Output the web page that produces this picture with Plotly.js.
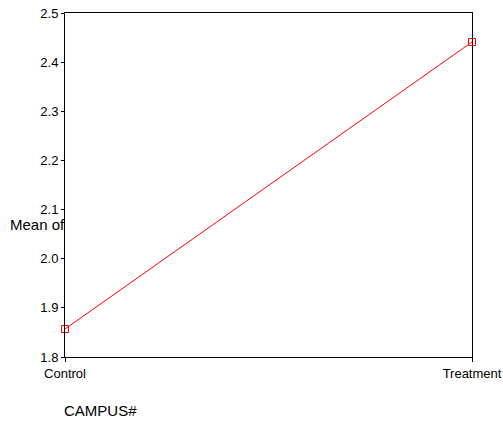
<!DOCTYPE html>
<html>
<head>
<meta charset="utf-8">
<script src="https://cdn.plot.ly/plotly-3.0.1.min.js"></script>
<style>
  html, body { margin: 0; padding: 0; background: #fff; }
  #chart { width: 503px; height: 422px; }
</style>
</head>
<body>
<div id="chart"></div>
<script>
// Group means by campus
const groups = ["Control", "Treatment"];
const means = [1.857, 2.441];
const yTicks = [1.8, 1.9, 2.0, 2.1, 2.2, 2.3, 2.4, 2.5];
const yTickText = ["1.8", "1.9", "2.0", "2.1", "2.2", "2.3", "2.4", "2.5"];

const family = "Liberation Sans, Arial, sans-serif";
const tickFont = { family: family, size: 13, color: "#000" };
const labelFont = { family: family, size: 15, color: "#000" };

const trace = {
  x: groups,
  y: means,
  type: "scatter",
  mode: "lines+markers",
  line: { color: "#ff0000", width: 1 },
  marker: { symbol: "square-open", size: 7, color: "#ff0000", line: { width: 1, color: "#ff0000" } },
  cliponaxis: false,
  hoverinfo: "x+y"
};

const layout = {
  width: 503,
  height: 422,
  margin: { l: 65, r: 31, t: 13, b: 65 },
  paper_bgcolor: "#fff",
  plot_bgcolor: "#fff",
  showlegend: false,
  font: tickFont,
  xaxis: {
    type: "category",
    range: [0, 1],
    showgrid: false,
    zeroline: false,
    showline: true,
    linecolor: "#000",
    linewidth: 1,
    mirror: true,
    ticks: "outside",
    ticklen: 4,
    tickcolor: "#000",
    tickfont: tickFont
  },
  yaxis: {
    range: [1.8, 2.5],
    tickvals: yTicks,
    ticktext: yTickText,
    showgrid: false,
    zeroline: false,
    showline: true,
    linecolor: "#000",
    linewidth: 1,
    mirror: true,
    ticks: "outside",
    ticklen: 3,
    tickcolor: "#000",
    tickfont: tickFont
  },
  annotations: [
    {
      text: "Mean of",
      xref: "paper", yref: "paper",
      x: 0, y: 0.39,
      xanchor: "right", yanchor: "middle",
      xshift: 2,
      yshift: -2,
      showarrow: false,
      font: labelFont
    },
    {
      text: "CAMPUS#",
      xref: "paper", yref: "paper",
      x: 0, y: 0,
      xanchor: "left", yanchor: "middle",
      xshift: -3,
      yshift: -53,
      showarrow: false,
      font: labelFont
    }
  ]
};

Plotly.newPlot("chart", [trace], layout, { displayModeBar: false, staticPlot: true });
</script>
</body>
</html>
